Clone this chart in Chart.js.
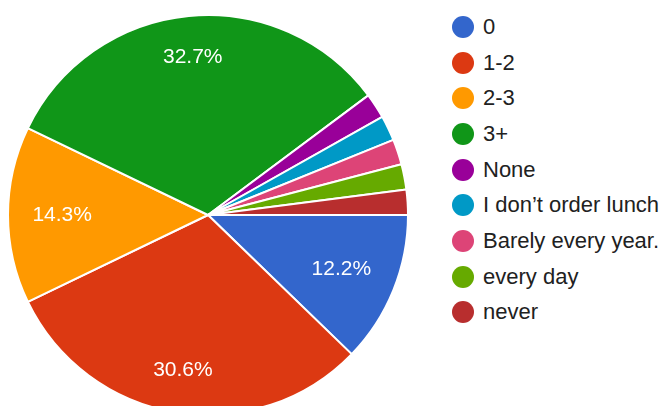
<!DOCTYPE html>
<html>
<head>
<meta charset="utf-8">
<script src="https://cdn.jsdelivr.net/npm/chart.js@4/dist/chart.umd.min.js"></script>
<style>
  html, body { margin: 0; padding: 0; background: #fff; }
  body { position: relative; width: 664px; height: 406px; overflow: hidden; font-family: "Liberation Sans", Arial, sans-serif; }
  #pie { position: absolute; left: 7px; top: 14px; }
  #legend { position: absolute; left: 0; top: 0; margin: 0; padding: 0; list-style: none; }
  #legend li { position: absolute; left: 452px; height: 22px; white-space: nowrap; }
  #legend .dot { position: absolute; left: 0; top: 0; width: 22px; height: 22px; border-radius: 50%; }
  #legend .txt { position: absolute; left: 31px; top: 0; line-height: 22px; font-size: 22px; color: #212121; }
</style>
</head>
<body>
<canvas id="pie" width="402" height="402"></canvas>
<ul id="legend"></ul>
<script>
const labels = ["0", "1-2", "2-3", "3+", "None", "I don\u2019t order lunch", "Barely every year.", "every day", "never"]
const counts = [6, 15, 7, 16, 1, 1, 1, 1, 1]
const colors = ["#3366cc", "#dc3912", "#ff9900", "#109618", "#990099", "#0099c6", "#dd4477", "#66aa00", "#b82e2e"]

const total = counts.reduce((a, b) => a + b, 0)

// percentage labels inside the bigger slices: the far corner of the text box
// sits at a fixed share of the radius, along the slice's middle angle
const sliceLabels = {
  id: "sliceLabels",
  afterDatasetsDraw(chart) {
    const ctx = chart.ctx
    const arcs = chart.getDatasetMeta(0).data
    ctx.save()
    ctx.fillStyle = "#ffffff"
    ctx.font = "21px 'Liberation Sans', Arial, sans-serif"
    ctx.textAlign = "center"
    ctx.textBaseline = "middle"
    arcs.forEach((arc, i) => {
      const pct = counts[i] / total * 100
      if (pct < 5) return
      const { x, y, startAngle, endAngle, outerRadius } = arc.getProps(["x", "y", "startAngle", "endAngle", "outerRadius"])
      const text = pct.toFixed(1) + "%"
      const w = ctx.measureText(text).width
      const h = 24
      const mid = (startAngle + endAngle) / 2
      const R = outerRadius * 0.88
      const b = w * Math.abs(Math.cos(mid)) + h * Math.abs(Math.sin(mid))
      const c = (w * w + h * h) / 4 - R * R
      const r = (-b + Math.sqrt(b * b - 4 * c)) / 2
      ctx.fillText(text, x + Math.cos(mid) * r, y + Math.sin(mid) * r)
    })
    ctx.restore()
  }
}

new Chart(document.getElementById("pie"), {
  type: "pie",
  data: {
    labels: labels,
    datasets: [{
      data: counts,
      backgroundColor: colors,
      borderColor: "#ffffff",
      borderWidth: 2
    }]
  },
  options: {
    responsive: false,
    animation: false,
    rotation: 90,
    layout: { padding: 0 },
    plugins: {
      legend: { display: false },
      tooltip: { enabled: false }
    }
  },
  plugins: [sliceLabels]
})

// legend list on the right
const legend = document.getElementById("legend")
labels.forEach((label, i) => {
  const li = document.createElement("li")
  li.style.top = (16 + i * 35.66) + "px"
  li.innerHTML = '<span class="dot"></span><span class="txt"></span>'
  li.querySelector(".dot").style.background = colors[i]
  li.querySelector(".txt").textContent = label
  legend.appendChild(li)
})
</script>
</body>
</html>
